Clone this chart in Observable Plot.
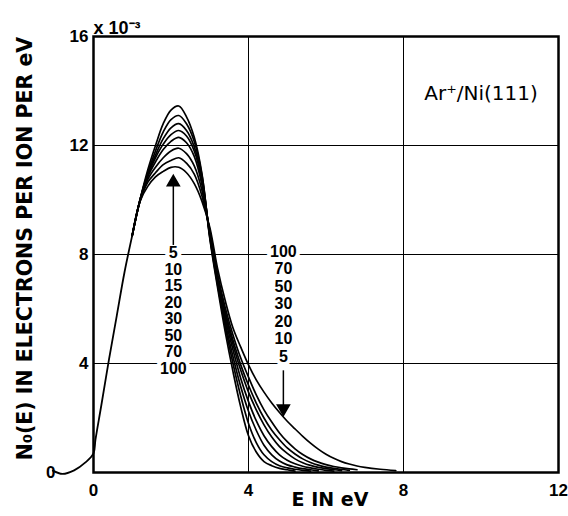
<!DOCTYPE html>
<html><head><meta charset="utf-8">
<script src="https://cdn.jsdelivr.net/npm/d3@7"></script>
<script src="https://cdn.jsdelivr.net/npm/@observablehq/plot@0.6"></script>
<style>body{margin:0;background:#fff} svg{display:block}</style>
</head><body><div id="chart"></div>
<script>
// Shared rising part (all beam energies coincide), E in eV, N in 1e-3
const riseE = [-1.05, -0.8, -0.5, -0.2, 0, 0.05, 0.2, 0.4, 0.6, 0.8, 1.0];
const riseN = [0.07, -0.05, 0.08, 0.38, 0.7, 1.2, 2.45, 4.15, 5.75, 7.35, 8.7];

// Grid of E for the separated parts of each curve
const curveE = [1.0, 1.2, 1.4, 1.6, 1.8, 2.0, 2.2, 2.4, 2.6, 2.8, 3.0,
  3.2, 3.4, 3.6, 3.8, 4.0, 4.2, 4.4, 4.6, 4.8, 5.0, 5.2, 5.4, 5.6, 5.8, 6.0, 6.2, 6.4, 6.6, 6.8, 7.0, 7.4, 7.8];

const n100 = [8.7, 10.0, 11.1, 12.0, 12.8, 13.3, 13.45, 13.05, 12.3, 10.95, 8.6,
  6.8, 5.15, 3.7, 2.4, 1.35, 0.75, 0.4, 0.25, 0.15, 0.1, 0.05];
const n70 = [8.7, 10.0, 11.0, 11.8, 12.5, 12.95, 13.1, 12.8, 12.15, 10.9, 8.65,
  6.9, 5.35, 4.0, 2.8, 1.8, 1.1, 0.65, 0.4, 0.25, 0.17, 0.12, 0.08, 0.05];
const n50 = [8.7, 10.0, 10.95, 11.65, 12.25, 12.65, 12.8, 12.55, 11.95, 10.8, 8.7,
  7.0, 5.5, 4.25, 3.15, 2.25, 1.55, 1.0, 0.65, 0.42, 0.28, 0.2, 0.14, 0.1, 0.06];
const n30 = [8.7, 10.0, 10.9, 11.55, 12.05, 12.4, 12.55, 12.35, 11.8, 10.7, 8.75,
  7.05, 5.65, 4.5, 3.45, 2.6, 1.9, 1.35, 0.95, 0.65, 0.45, 0.32, 0.23, 0.17, 0.12, 0.08, 0.05];
const n20 = [8.7, 10.0, 10.85, 11.4, 11.85, 12.15, 12.3, 12.1, 11.6, 10.55, 8.8,
  7.15, 5.8, 4.7, 3.75, 2.95, 2.3, 1.75, 1.3, 0.95, 0.7, 0.5, 0.36, 0.26, 0.19, 0.14, 0.1, 0.07];
const n15 = [8.7, 9.95, 10.75, 11.2, 11.55, 11.8, 11.9, 11.7, 11.25, 10.35, 8.85,
  7.2, 5.9, 4.85, 3.95, 3.2, 2.55, 2.0, 1.55, 1.2, 0.9, 0.68, 0.5, 0.37, 0.27, 0.2, 0.15, 0.11, 0.08];
const n10 = [8.7, 9.95, 10.65, 11.0, 11.3, 11.45, 11.55, 11.35, 10.95, 10.15, 8.9,
  7.3, 6.05, 5.05, 4.2, 3.5, 2.85, 2.3, 1.85, 1.45, 1.13, 0.87, 0.66, 0.5, 0.38, 0.29, 0.22, 0.17, 0.13, 0.1];
const n5 = [8.7, 9.95, 10.5, 10.85, 11.05, 11.2, 11.2, 11.0, 10.6, 9.95, 9.0,
  7.5, 6.3, 5.3, 4.6, 3.95, 3.4, 2.95, 2.55, 2.2, 1.88, 1.6, 1.33, 1.08, 0.86, 0.67, 0.52, 0.4, 0.31, 0.24, 0.19, 0.12, 0.07];

const beamEnergies = [5, 10, 15, 20, 30, 50, 70, 100];
const beamSeries = [n5, n10, n15, n20, n30, n50, n70, n100];
const leftLabels = [5, 10, 15, 20, 30, 50, 70, 100];
const rightLabels = [100, 70, 50, 30, 20, 10, 5];
const xTicks = [0, 4, 8, 12];
const yTicks = [4, 8, 12, 16];
const xGrid = [4, 8];
const yGrid = [4, 8, 12];

const rise = riseE.map((E, i) => ({E, N: riseN[i]}));
const curves = beamEnergies.flatMap((b, k) => beamSeries[k].map((N, i) => ({beam: b, E: curveE[i], N})));

const font = "Liberation Sans";
const title = "DejaVu Sans";
const chart = Plot.plot({
  width: 568, height: 516,
  marginLeft: 93, marginRight: 10, marginTop: 36, marginBottom: 44,
  x: {domain: [0, 12]},
  y: {domain: [0, 16]},
  style: {fontFamily: font, background: "white", color: "black", overflow: "visible"},
  marks: [
    Plot.gridX(xGrid, {stroke: "black", strokeOpacity: 1, strokeWidth: 1}),
    Plot.gridY(yGrid, {stroke: "black", strokeOpacity: 1, strokeWidth: 1}),
    Plot.axisX(xTicks, {tickSize: 0, tickPadding: 11, fontSize: 17, fontWeight: "bold", label: null}),
    Plot.axisY(yTicks, {tickSize: 0, tickPadding: 5, fontSize: 17, fontWeight: "bold", label: null}),
    Plot.axisY([0], {tickSize: 0, tickPadding: 5, dx: -33, fontSize: 17, fontWeight: "bold", label: null}),
    Plot.text(["N\u2080(E) IN ELECTRONS PER ION PER eV"], {frameAnchor: "left", textAnchor: "middle", rotate: -90, dx: -68, dy: -6,
      fontSize: 20.5, fontWeight: "bold", fontFamily: title}),
    Plot.text(["E IN eV"], {frameAnchor: "bottom", textAnchor: "middle", dy: 33, dx: 4, fontSize: 19, fontWeight: "bold", fontFamily: title}),
    Plot.text(["x 10\u207B\u00B3"], {frameAnchor: "top-left", dy: -15, dx: 0, textAnchor: "start", fontSize: 18, fontWeight: "bold"}),
    Plot.text(["Ar\u207A/Ni(111)"], {x: 10.0, y: 13.9, fontSize: 20, fontFamily: title}),
    Plot.text([leftLabels.join("\n")], {x: 2.06, y: 8, lineAnchor: "top", dy: -8, lineHeight: 1.03, fontSize: 16, fontWeight: "bold",
      fill: "black", stroke: "white", strokeWidth: 8, paintOrder: "stroke"}),
    Plot.text([rightLabels.join("\n")], {x: 4.9, y: 8, lineAnchor: "top", dy: -10, lineHeight: 1.09, fontSize: 16, fontWeight: "bold",
      fill: "black", stroke: "white", strokeWidth: 8, paintOrder: "stroke"}),
    Plot.line(rise, {x: "E", y: "N", curve: "catmull-rom", stroke: "black", strokeWidth: 1.8}),
    Plot.line(curves, {x: "E", y: "N", z: "beam", curve: "catmull-rom", stroke: "black", strokeWidth: 1.7}),
    Plot.link([0], {x1: 2.06, y1: 8.35, x2: 2.06, y2: 10.6, stroke: "black", strokeWidth: 1.5}),
    Plot.dot([0], {x: 2.06, y: 10.65, symbol: "triangle", r: 4.5, fill: "black", stroke: "black"}),
    Plot.link([0], {x1: 4.9, y1: 3.75, x2: 4.9, y2: 2.4, stroke: "black", strokeWidth: 1.5}),
    Plot.dot([0], {x: 4.9, y: 2.35, symbol: "triangle", rotate: 180, r: 4.5, fill: "black", stroke: "black"}),
    Plot.frame({stroke: "black", strokeWidth: 2.5})
  ]
});
document.getElementById("chart").appendChild(chart);
</script>
</body></html>
